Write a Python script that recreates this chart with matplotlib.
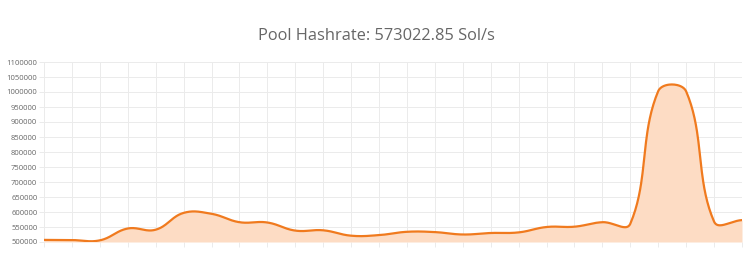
import numpy as np
import matplotlib
matplotlib.use("Agg")
import matplotlib.pyplot as plt

# Pool hashrate (Sol/s), one value per sample
hashrate = [507000, 506500, 505500, 545000, 541000, 597000, 594000,
            566000, 565000, 538000, 539000, 521000, 523000, 534000,
            533000, 525000, 530000, 532000, 550000, 551000, 566000,
            561000, 1003000, 1002000, 568000, 573022.85]
y_ticks = list(range(500000, 1100001, 50000))
title = "Pool Hashrate: 573022.85 Sol/s"

LINE = "#f07a1e"
FILL = "#fddcc4"
GRID = "#ebebeb"
TEXT = "#666666"


def spline(values, tension=0.4, sx=27.9, sy=30 / 100000, steps=40):
    """Curva tipo Chart.js (bezier con tension) sobre coordenadas de píxel aprox."""
    pts = np.column_stack([np.arange(len(values)) * sx, np.asarray(values) * sy])
    n = len(pts)
    c_prev = np.zeros_like(pts)
    c_next = np.zeros_like(pts)
    for i in range(n):
        prev = pts[max(i - 1, 0)]
        cur = pts[i]
        nxt = pts[min(i + 1, n - 1)]
        d01 = np.hypot(*(cur - prev))
        d12 = np.hypot(*(nxt - cur))
        tot = d01 + d12
        s01 = d01 / tot if tot else 0
        s12 = d12 / tot if tot else 0
        c_prev[i] = cur - tension * s01 * (nxt - prev)
        c_next[i] = cur + tension * s12 * (nxt - prev)
    t = np.linspace(0, 1, steps)[:, None]
    out = []
    for i in range(n - 1):
        p0, p1, p2, p3 = pts[i], c_next[i], c_prev[i + 1], pts[i + 1]
        seg = ((1 - t) ** 3) * p0 + 3 * ((1 - t) ** 2) * t * p1 + 3 * (1 - t) * t ** 2 * p2 + t ** 3 * p3
        out.append(seg if i == 0 else seg[1:])
    curve = np.vstack(out)
    return curve[:, 0] / sx, curve[:, 1] / sy


fig = plt.figure(figsize=(7.52, 2.62), dpi=100)
ax = fig.add_axes([44 / 752, 20 / 262, 698 / 752, 180 / 262])

xs, ys = spline(hashrate)
ax.fill_between(xs, 500000, ys, color=FILL, linewidth=0, zorder=2)
ax.plot(xs, ys, color=LINE, linewidth=1.6, zorder=3, solid_capstyle="round")

ax.set_xlim(0, len(hashrate) - 1)
ax.set_ylim(500000, 1100000)
ax.set_yticks(y_ticks)
ax.set_yticklabels([str(v) for v in y_ticks])
ax.set_xticks(range(len(hashrate)))
ax.set_xticklabels([])

ax.grid(True, color=GRID, linewidth=0.7, zorder=0)
ax.set_axisbelow(True)
for side in ["top", "right", "bottom", "left"]:
    ax.spines[side].set_visible(False)

ax.tick_params(axis="y", length=3.6, width=0.7, color=GRID, pad=1.2,
               labelsize=5.5, labelcolor=TEXT)
ax.tick_params(axis="x", length=3.6, width=0.7, color=GRID)
for lbl in ax.get_yticklabels():
    lbl.set_family("Open Sans")

fig.text(0.5, 1 - 36 / 262, title, ha="center", va="center",
         fontsize=11.8, color=TEXT, family="Open Sans")

fig.savefig("out.png", dpi=100, facecolor="white")
